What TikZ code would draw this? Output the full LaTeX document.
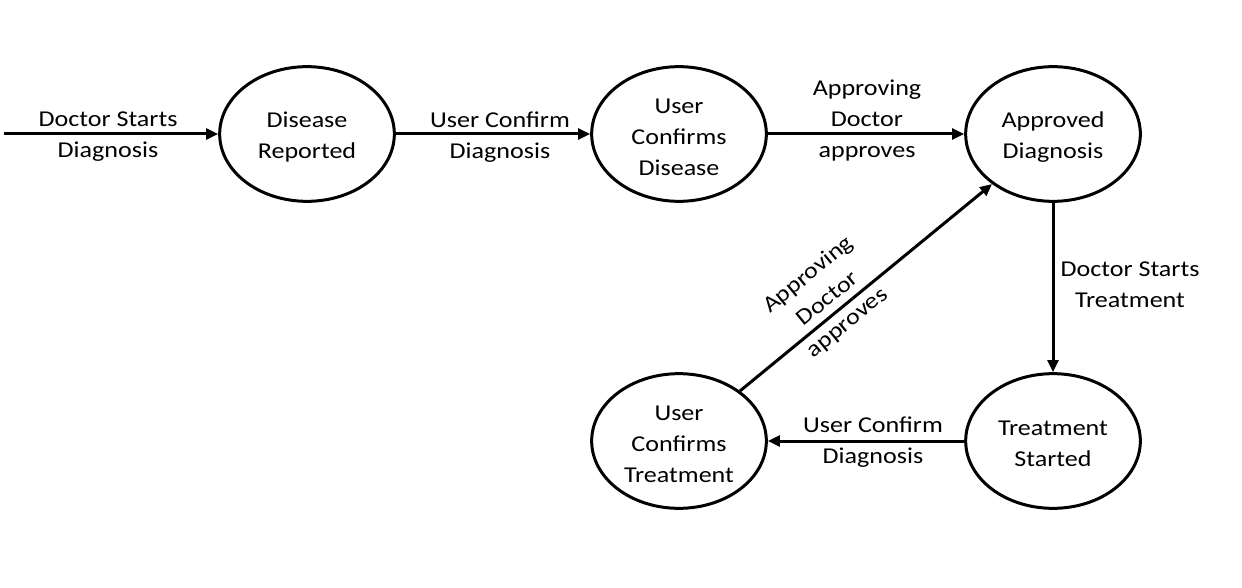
\documentclass[tikz,border=0pt]{standalone}
\usepackage{fontspec}
\setmainfont{Carlito}[FakeStretch=1.15]
\usetikzlibrary{shapes.geometric,arrows.meta}
\begin{document}
\begin{tikzpicture}[x=0.75pt,y=-0.75pt,
  txt/.style={font=\fontsize{17}{23.25}\selectfont, align=center},
  state/.style={draw, ellipse, line width=2.25pt, minimum width=131pt, minimum height=101pt, inner sep=0pt,
    label={[lbl, yshift=-2.25pt]center:#1}},
  lbl/.style={txt, inner sep=0pt},
  conn/.style={line width=2.25pt, -{Triangle[length=9pt,width=8pt]}}]
\useasboundingbox (0,0) rectangle (1242,588);
\node[state={Disease\\Reported}] (dr) at (307,134) {};
\node[state={User\\Confirms\\Disease}] (ucd) at (679,134) {};
\node[state={Approved\\Diagnosis}] (ad) at (1053,134) {};
\node[state={Treatment\\Started}] (ts) at (1053,441) {};
\node[state={User\\Confirms\\Treatment}] (uct) at (679,441) {};
\coordinate (start) at (4,134);
\draw[conn] (start) -- (dr);
\draw[conn] (dr) -- (ucd);
\draw[conn] (ucd) -- (ad);
\draw[conn] (ad) -- (ts);
\draw[conn] (ts) -- (uct);
\draw[conn] (uct) -- (ad);
\node[lbl] (l1) at (108,137) {Doctor Starts\\Diagnosis};
\node[lbl] (l2) at (500,137) {User Confirm\\Diagnosis};
\node[lbl] (l3) at (867,121) {Approving\\Doctor\\approves};
\node[lbl] (l4) at (1130,285) {Doctor Starts\\Treatment};
\node[lbl] (l5) at (873,442) {User Confirm\\Diagnosis};
\node[lbl, rotate=39.3] (l6) at (828,299) {Approving\\Doctor\\approves};
\end{tikzpicture}
\end{document}
